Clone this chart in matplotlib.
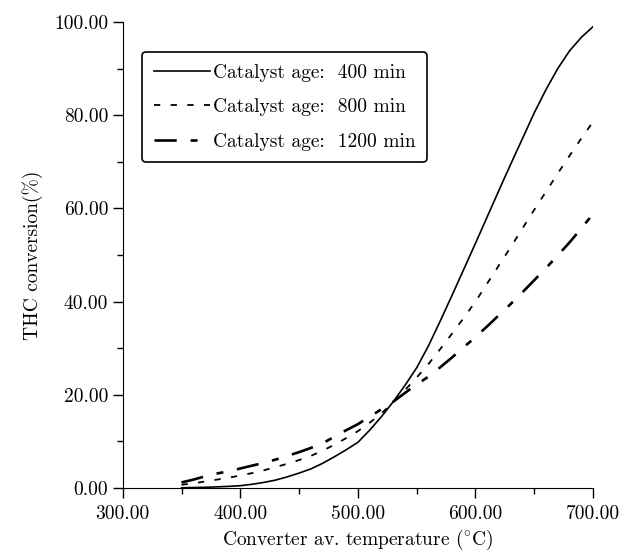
import matplotlib
matplotlib.use('Agg')
import matplotlib.pyplot as plt
from matplotlib.ticker import MultipleLocator, FormatStrFormatter

plt.rcParams['font.family'] = ['cmr10', 'DejaVu Serif']
plt.rcParams['mathtext.fontset'] = 'cm'
plt.rcParams['axes.formatter.use_mathtext'] = True
plt.rcParams['lines.scale_dashes'] = False

# Converter temperature (C), read every 10 degrees
temps = list(range(350, 701, 10))
# THC conversion (%) for each catalyst age
conv_400 = [0.05, 0.1, 0.15, 0.25, 0.35, 0.5, 0.8, 1.2, 1.7, 2.4,
            3.2, 4.1, 5.3, 6.7, 8.2, 9.8, 12.4, 15.3, 18.5, 22.0,
            25.8, 30.5, 35.8, 41.3, 46.9, 52.5, 58.2, 63.9, 69.5, 75.0,
            80.5, 85.5, 90.0, 93.8, 96.7, 99.0]
conv_800 = [0.7, 1.0, 1.4, 1.8, 2.2, 2.7, 3.2, 3.8, 4.5, 5.2,
            6.0, 6.9, 8.0, 9.3, 10.7, 12.2, 14.0, 16.0, 18.4, 21.0,
            23.7, 26.6, 29.8, 33.1, 36.5, 40.0, 43.9, 47.8, 51.7, 55.7,
            59.7, 63.6, 67.5, 71.3, 75.0, 78.6]
conv_1200 = [1.2, 1.8, 2.5, 3.1, 3.6, 4.2, 4.8, 5.4, 6.1, 6.9,
             7.7, 8.6, 9.6, 11.0, 12.4, 13.7, 15.3, 16.9, 18.5, 20.4,
             22.2, 23.9, 25.9, 28.0, 30.2, 32.4, 34.7, 37.1, 39.5, 42.0,
             44.6, 47.2, 49.9, 52.7, 55.7, 58.8]
labels = ['Catalyst age:  400 min', 'Catalyst age:  800 min', 'Catalyst age:  1200 min']

fig = plt.figure(figsize=(6.3, 5.52), dpi=100)
ax = fig.add_axes([0.1948, 0.1159, 0.7465, 0.8442])

ax.plot(temps, conv_400, color='black', lw=1.2, label=labels[0])
ax.plot(temps, conv_800, color='black', lw=1.3, dashes=[4.5, 7.5], label=labels[1])
ax.plot(temps, conv_1200, color='black', lw=1.9, dashes=[16, 10, 5, 10], label=labels[2])

ax.set_xlim(300, 700)
ax.set_ylim(0, 100)
ax.spines['top'].set_visible(False)
ax.spines['right'].set_visible(False)
ax.xaxis.set_major_locator(MultipleLocator(100))
ax.xaxis.set_minor_locator(MultipleLocator(50))
ax.yaxis.set_major_locator(MultipleLocator(20))
ax.yaxis.set_minor_locator(MultipleLocator(10))
ax.xaxis.set_major_formatter(FormatStrFormatter('%.2f'))
ax.yaxis.set_major_formatter(FormatStrFormatter('%.2f'))
ax.tick_params(which='major', direction='out', length=7, width=1, labelsize=14)
ax.tick_params(which='minor', direction='out', length=4, width=1)
ax.tick_params(axis='x', which='major', pad=5)

ax.set_xlabel(r'Converter av. temperature ($^{\circ}$C)', fontsize=14, labelpad=4)
ax.set_ylabel('THC conversion(%)', fontsize=14, labelpad=8)

leg = ax.legend(loc='upper left', bbox_to_anchor=(0.041, 0.936), borderaxespad=0,
                fontsize=14, handlelength=2.9, handletextpad=0.15, labelspacing=0.85,
                fancybox=True, framealpha=1, edgecolor='black', borderpad=0.6)
leg.get_frame().set_linewidth(1.2)

fig.savefig('out.png', dpi=100)
